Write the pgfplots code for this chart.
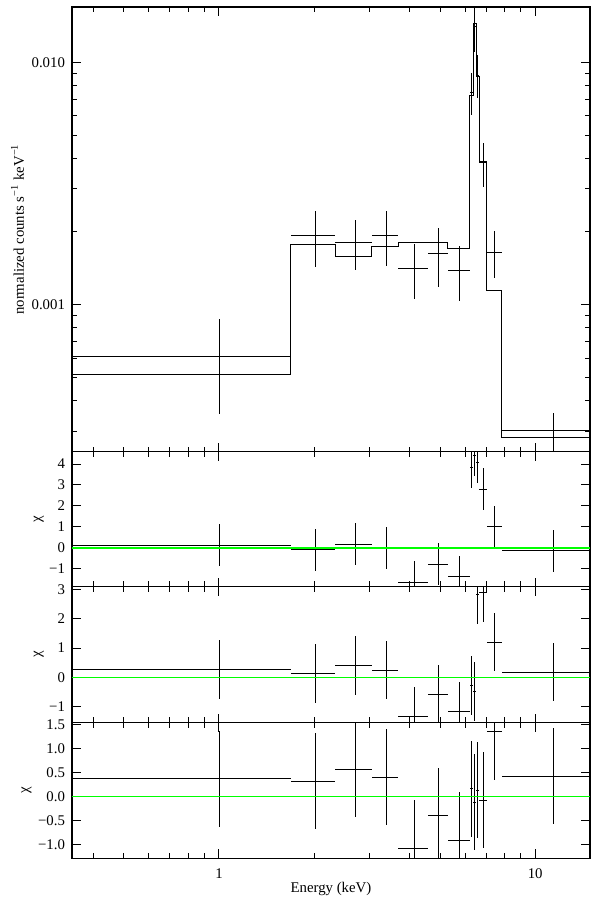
\documentclass[border=0pt]{standalone}
\usepackage{fontspec}
\setmainfont{Liberation Serif}
\usepackage{pgfplots}
\pgfplotsset{compat=1.18}
\usepackage{pgfplotstable}
\usetikzlibrary{calc}

% binned spectrum: centre, bin half-widths, data, errors, residuals of three fits
\pgfplotstableread{
E      exm    exq    v        eym      eyp      ra     rb     rc     one
1.000  0.657  0.689  6.12e-4  2.6e-4   2.6e-4   0.14   0.28   0.37   1
2.013  0.324  0.316  1.93e-3  0.50e-3  0.50e-3  -0.08  0.14   0.31   1
2.694  0.365  0.346  1.81e-3  0.42e-3  0.43e-3  0.175  0.40   0.57   1
3.377  0.337  0.316  1.93e-3  0.49e-3  0.50e-3  0.01   0.25   0.40   1
4.141  0.448  0.434  1.41e-3  0.36e-3  0.36e-3  -1.64  -1.32  -1.08  1
4.932  0.357  0.362  1.62e-3  0.44e-3  0.44e-3  -0.77  -0.57  -0.40  1
5.748  0.454  0.452  1.386e-3 0.35e-3  0.35e-3  -1.36  -1.16  -0.92  1
6.305  0.105  0.060  7.54e-3  1.50e-3  1.49e-3  3.85   -0.27  0.16   1
6.427  0.062  0.081  1.41e-2  3.1e-3   3.1e-3   4.41   -0.49  -0.12  1
6.577  0.069  0.087  8.84e-3  1.69e-3  1.85e-3  4.09   2.82   0.13   1
6.832  0.168  0.203  3.85e-3  0.80e-3  0.80e-3  2.81   2.90   -0.08  1
7.433  0.398  0.413  1.64e-3  0.36e-3  0.37e-3  1.01   1.21   1.35   1
11.43  3.584  3.47   3.03e-4  0.55e-4  0.55e-4  -0.13  0.18   0.42   1
}\spec

% folded model, left bin edges
\pgfplotstableread{
E      m
0.343  5.16e-4
1.689  1.77e-3
2.329  1.57e-3
3.04   1.73e-3
3.693  1.80e-3
4.575  1.80e-3
5.294  1.71e-3
6.20   7.31e-3
6.365  1.445e-2
6.508  8.75e-3
6.664  3.88e-3
7.035  1.14e-3
7.846  2.81e-4
14.9   2.81e-4
}\model

\def\fs{\fontsize{7.4}{8}\selectfont}

\begin{document}
\begin{tikzpicture}
\begin{axis}[name=p1,
  scale only axis, width=259pt, height=222.35pt,
  xmode=log, xmin=0.343, xmax=14.9,
  xtick={1,10}, xticklabels={},
  minor xtick={0.4,0.5,0.6,0.7,0.8,0.9,2,3,4,5,6,7,8,9},
  ymode=log, ymin=2.466e-4, ymax=0.0169,
  ytick={0.001,0.01}, yticklabels={0.001,0.010},
  minor ytick={3e-4,4e-4,5e-4,6e-4,7e-4,8e-4,9e-4,2e-3,3e-3,4e-3,5e-3,6e-3,7e-3,8e-3,9e-3},
  tick align=inside, major tick length=4.5pt, minor tick length=2.6pt,
  axis line style={line width=0.7pt},
  tick style={black, line width=0.5pt},
  tick label style={font=\fs},
  ylabel style={font=\fs, at={(axis description cs:-0.1052,0.5)}, anchor=center},
  ylabel={normalized counts s\textsuperscript{−1} keV\textsuperscript{−1}}]
  \addplot[black, line width=0.5pt, only marks, mark options={draw=none, fill=none}, mark size=0pt,
    error bars/.cd, x dir=both, x explicit, y dir=both, y explicit, error mark=none]
    table[x=E, y=v, x error minus=exm, x error plus=exq,
    y error minus=eym, y error plus=eyp] {\spec};
  \addplot[const plot, black, line width=0.5pt] table[x=E, y=m] {\model};
\end{axis}

\begin{axis}[name=p2, at={(p1.south west)}, anchor=north west,
  scale only axis, width=259pt, height=67.4pt,
  xmode=log, xmin=0.343, xmax=14.9,
  xtick={1,10}, xticklabels={},
  minor xtick={0.4,0.5,0.6,0.7,0.8,0.9,2,3,4,5,6,7,8,9},
  ymin=-1.836, ymax=4.586,
  ytick={-1,0,1,2,3,4}, yticklabels={−1,0,1,2,3,4},
  tick align=inside, major tick length=4.5pt, minor tick length=2.6pt,
  axis line style={line width=0.7pt},
  tick style={black, line width=0.5pt},
  tick label style={font=\fs},
  ylabel style={font=\fs, at={(axis description cs:-0.0643,0.5)}, anchor=center},
  ylabel={χ}]
  \addplot[black, line width=0.5pt, only marks, mark options={draw=none, fill=none}, mark size=0pt,
    error bars/.cd, x dir=both, x explicit, y dir=both, y explicit, error mark=none]
    table[x=E, y=ra, x error minus=exm, x error plus=exq, y error=one] {\spec};
  \addplot[green, line width=0.6pt] coordinates {(0.343,0) (14.9,0)};
\end{axis}

\begin{axis}[name=p3, at={(p2.south west)}, anchor=north west,
  scale only axis, width=259pt, height=68.1pt,
  xmode=log, xmin=0.343, xmax=14.9,
  xtick={1,10}, xticklabels={},
  minor xtick={0.4,0.5,0.6,0.7,0.8,0.9,2,3,4,5,6,7,8,9},
  ymin=-1.545, ymax=3.10,
  ytick={-1,0,1,2,3}, yticklabels={−1,0,1,2,3},
  tick align=inside, major tick length=4.5pt, minor tick length=2.6pt,
  axis line style={line width=0.7pt},
  tick style={black, line width=0.5pt},
  tick label style={font=\fs},
  ylabel style={font=\fs, at={(axis description cs:-0.0643,0.5)}, anchor=center},
  ylabel={χ}]
  \addplot[black, line width=0.5pt, only marks, mark options={draw=none, fill=none}, mark size=0pt,
    error bars/.cd, x dir=both, x explicit, y dir=both, y explicit, error mark=none]
    table[x=E, y=rb, x error minus=exm, x error plus=exq, y error=one] {\spec};
  \addplot[green, line width=0.6pt] coordinates {(0.343,0) (14.9,0)};
\end{axis}

\begin{axis}[name=p4, at={(p3.south west)}, anchor=north west,
  scale only axis, width=259pt, height=67.8pt,
  xmode=log, xmin=0.343, xmax=14.9,
  xtick={1,10}, xticklabels={1,10},
  minor xtick={0.4,0.5,0.6,0.7,0.8,0.9,2,3,4,5,6,7,8,9},
  ymin=-1.29, ymax=1.533,
  ytick={-1,-0.5,0,0.5,1,1.5}, yticklabels={−1.0,−0.5,0.0,0.5,1.0,1.5},
  tick align=inside, major tick length=4.5pt, minor tick length=2.6pt,
  axis line style={line width=0.7pt},
  tick style={black, line width=0.5pt},
  tick label style={font=\fs},
  xticklabel style={yshift=-1.7pt},
  ylabel style={font=\fs, at={(axis description cs:-0.0878,0.5)}, anchor=center},
  xlabel style={font=\fs, at={(axis description cs:0.5,0)}, anchor=center, yshift=-15.35pt},
  xlabel={Energy (keV)}, ylabel={χ}]
  \addplot[black, line width=0.5pt, only marks, mark options={draw=none, fill=none}, mark size=0pt,
    error bars/.cd, x dir=both, x explicit, y dir=both, y explicit, error mark=none]
    table[x=E, y=rc, x error minus=exm, x error plus=exq, y error=one] {\spec};
  \addplot[green, line width=0.6pt] coordinates {(0.343,0) (14.9,0)};
\end{axis}

\pgfresetboundingbox
\path[use as bounding box] ($(p1.north west)+(-36pt,3.5pt)$) rectangle ($(p4.south east)+(0,-20.35pt)$);
\end{tikzpicture}
\end{document}
